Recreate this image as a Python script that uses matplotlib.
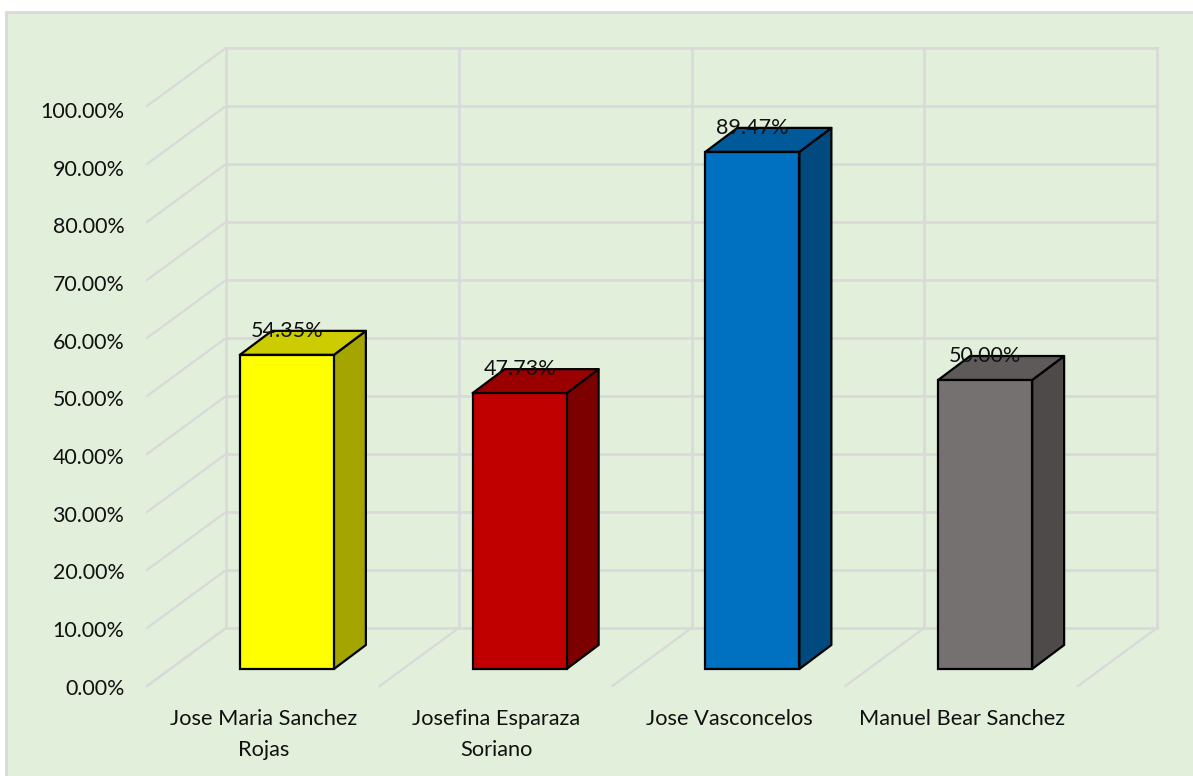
import matplotlib
matplotlib.use('Agg')
import matplotlib.pyplot as plt
from matplotlib.patches import Polygon, Rectangle

plt.rcParams['font.family'] = ['Lato', 'DejaVu Sans']

# Data
names = ['Jose Maria Sanchez\nRojas', 'Josefina Esparaza\nSoriano', 'Jose Vasconcelos', 'Manuel Bear Sanchez']
values = [54.35, 47.73, 89.47, 50.00]
face_colors = ['#FFFF00', '#C00000', '#0070C0', '#767171']
top_colors = ['#CCCC00', '#9A0000', '#005A9A', '#5E5A5A']
side_colors = ['#A5A500', '#7C0000', '#004A7F', '#4D4A49']
ticks = [0, 10, 20, 30, 40, 50, 60, 70, 80, 90, 100]

# Pixel calibration, x unit = one category, y unit = one percent
W, H = 1193, 776
X0, CAT_W = 147, 232.75
Y0, PCT = 686, 5.8

# Fake 3D depth in axis units
wall_dx = 79 / CAT_W
wall_dy = 58 / PCT
bar_dx = 32 / CAT_W
bar_dy = 24 / PCT
bar_w = 94 / CAT_W
bar_shift = 23.5 / CAT_W
bar_base = 17 / PCT
bar_scale = 0.9965

grid_col = '#D9D9D9'
bg_col = '#E2EFDA'

fig = plt.figure(figsize=(W / 100, H / 100), dpi=100)
ax = fig.add_axes([0, 0, 1, 1])
ax.set_xlim(-X0 / CAT_W, (W - X0) / CAT_W)
ax.set_ylim((Y0 - H) / PCT, Y0 / PCT)
ax.axis('off')

# chart area
ax.add_patch(Rectangle((ax.get_xlim()[0] + 6 / CAT_W, ax.get_ylim()[0] - 5), 1200 / CAT_W, (H - 13 + 30) / PCT,
                       facecolor=bg_col, edgecolor=grid_col, lw=2, zorder=0))

n = len(names)

# walls
for t in ticks:
    ax.plot([0, wall_dx], [t, t + wall_dy], color=grid_col, lw=1.6, zorder=1)
    ax.plot([wall_dx, n + wall_dx], [t + wall_dy, t + wall_dy], color=grid_col, lw=1.9, zorder=1)
    ax.text(-0.097, t * 0.995 - 0.5, f'{t:.2f}%', ha='right', va='center', fontsize=15.4, color='#111111')
for i in range(n + 1):
    ax.plot([i + wall_dx, i + wall_dx], [wall_dy, 100 + wall_dy], color=grid_col, lw=1.9, zorder=1)
    ax.plot([i, i + wall_dx], [0, wall_dy], color=grid_col, lw=1.6, zorder=1)

# bars
for i, v in enumerate(values):
    x = i + 0.5 + bar_shift - bar_w / 2
    b = bar_base
    t = bar_base + v * bar_scale
    ax.add_patch(Polygon([(x + bar_w, b), (x + bar_w + bar_dx, b + bar_dy), (x + bar_w + bar_dx, t + bar_dy), (x + bar_w, t)],
                         facecolor=side_colors[i], edgecolor='black', lw=1.6, joinstyle='round', zorder=3))
    ax.add_patch(Polygon([(x, t), (x + bar_dx, t + bar_dy), (x + bar_w + bar_dx, t + bar_dy), (x + bar_w, t)],
                         facecolor=top_colors[i], edgecolor='black', lw=1.6, joinstyle='round', zorder=3))
    ax.add_patch(Rectangle((x, b), bar_w, t - b, facecolor=face_colors[i], edgecolor='black', lw=1.6, zorder=4))
    ax.text(x + bar_w / 2, t + 4.1, f'{v:.2f}%', ha='center', va='center', fontsize=15.5, color='#111111', zorder=5)
    ax.text(i + 0.5, -4.0, names[i], ha='center', va='top', fontsize=15.7, color='#111111', linespacing=1.68, zorder=5)

fig.savefig('out.png', dpi=100)
